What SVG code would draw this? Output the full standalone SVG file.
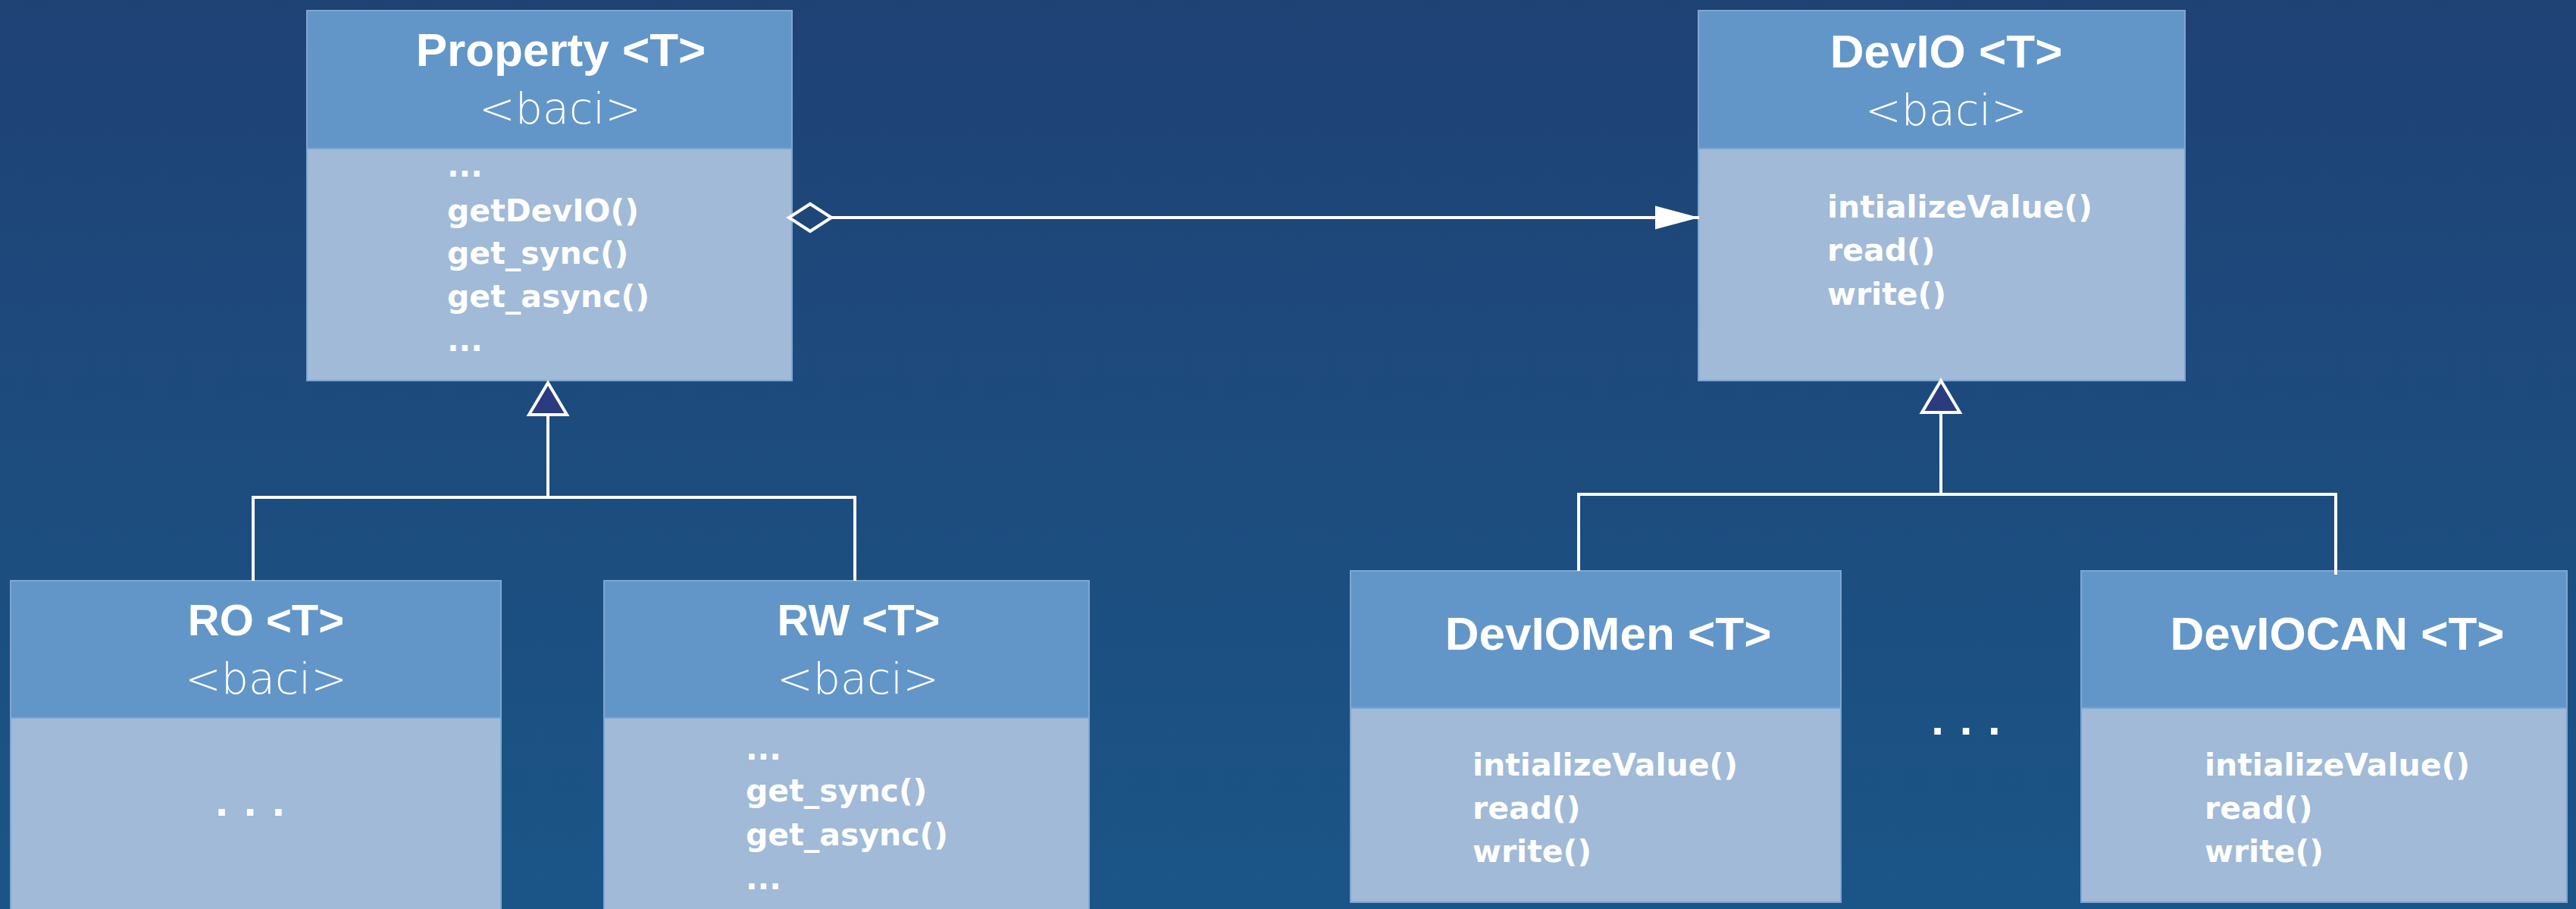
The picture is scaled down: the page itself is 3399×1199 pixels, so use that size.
<svg xmlns="http://www.w3.org/2000/svg" width="3399" height="1199" viewBox="0 0 3399 1199">
  <defs>
    <linearGradient id="bg" x1="0" y1="0" x2="0" y2="1">
      <stop offset="0" stop-color="#1f4275"/>
      <stop offset="1" stop-color="#1b5587"/>
    </linearGradient>
    <marker id="diamond" markerUnits="userSpaceOnUse" viewBox="0 0 62 42" markerWidth="62" markerHeight="42" refX="3" refY="21" orient="auto" overflow="visible">
      <path d="M3 21 L31 3 L59 21 L31 39 Z" fill="#1e4679" stroke="#ffffff" stroke-width="4"/>
    </marker>
    <marker id="arrow" markerUnits="userSpaceOnUse" viewBox="0 0 60 32" markerWidth="60" markerHeight="32" refX="58" refY="16" orient="auto" overflow="visible">
      <path d="M58 16 L0 0.5 L0 31.5 Z" fill="#ffffff"/>
    </marker>
    <marker id="inherit" markerUnits="userSpaceOnUse" viewBox="0 0 50 54" markerWidth="50" markerHeight="54" refX="46" refY="27" orient="auto" overflow="visible">
      <path d="M46 27 L4 2 L4 52 Z" fill="#2b3b80" stroke="#ffffff" stroke-width="4" stroke-linejoin="miter"/>
    </marker>
  </defs>
  <style>
    .hdr { fill: #6296c8; stroke: #7fa6d2; stroke-width: 2; }
    .body { fill: #a0bad8; stroke: #7fa6d2; stroke-width: 2; }
    .title { font-family: "Liberation Sans", Arial, sans-serif; font-weight: bold; font-size: 62px; fill: #ffffff; text-anchor: middle; }
    .title.sm { font-size: 58px; }
    .stereo { font-family: "DejaVu Sans", sans-serif; font-weight: 300; font-size: 57px; fill: #ffffff; text-anchor: middle; }
    .op { font-family: "DejaVu Sans", sans-serif; font-weight: bold; font-size: 41px; fill: #ffffff; }
    .dots { font-family: "Liberation Sans", Arial, sans-serif; font-weight: bold; font-size: 60px; letter-spacing: 2px; fill: #ffffff; text-anchor: middle; }
    .conn { fill: none; stroke: #ffffff; stroke-width: 4; }
  </style>
  <rect x="0" y="0" width="3399" height="1199" fill="url(#bg)"/>

  <g id="node-property">
    <rect class="body" x="405" y="14" width="640" height="488"/>
    <rect class="hdr" x="405" y="14" width="640" height="182"/>
    <text class="title" x="740" y="87">Property &lt;T&gt;</text>
    <text class="stereo" x="739" y="163">&lt;baci&gt;</text>
    <text class="op" x="590" y="233">...</text>
    <text class="op" x="590" y="292">getDevIO()</text>
    <text class="op" x="590" y="348">get_sync()</text>
    <text class="op" x="590" y="405">get_async()</text>
    <text class="op" x="590" y="463">...</text>
  </g>

  <g id="node-devio">
    <rect class="body" x="2241" y="14" width="642" height="488"/>
    <rect class="hdr" x="2241" y="14" width="642" height="182"/>
    <text class="title" x="2568" y="89">DevIO &lt;T&gt;</text>
    <text class="stereo" x="2568" y="165">&lt;baci&gt;</text>
    <text class="op" x="2411" y="287">intializeValue()</text>
    <text class="op" x="2411" y="344">read()</text>
    <text class="op" x="2411" y="402">write()</text>
  </g>

  <g id="node-ro">
    <rect class="body" x="14" y="766" width="647" height="440"/>
    <rect class="hdr" x="14" y="766" width="647" height="181"/>
    <text class="title sm" x="351" y="838">RO &lt;T&gt;</text>
    <text class="stereo" x="351" y="915">&lt;baci&gt;</text>
    <text class="dots" x="331" y="1076">. . .</text>
  </g>

  <g id="node-rw">
    <rect class="body" x="797" y="766" width="640" height="440"/>
    <rect class="hdr" x="797" y="766" width="640" height="181"/>
    <text class="title sm" x="1133" y="838">RW &lt;T&gt;</text>
    <text class="stereo" x="1132" y="915">&lt;baci&gt;</text>
    <text class="op" x="984" y="1002">...</text>
    <text class="op" x="984" y="1057">get_sync()</text>
    <text class="op" x="984" y="1115">get_async()</text>
    <text class="op" x="984" y="1173">...</text>
  </g>

  <g id="node-deviomen">
    <rect class="body" x="1782" y="753" width="647" height="437"/>
    <rect class="hdr" x="1782" y="753" width="647" height="181"/>
    <text class="title" x="2122" y="857">DevIOMen &lt;T&gt;</text>
    <text class="op" x="1943" y="1023">intializeValue()</text>
    <text class="op" x="1943" y="1080">read()</text>
    <text class="op" x="1943" y="1137">write()</text>
  </g>

  <g id="node-deviocan">
    <rect class="body" x="2746" y="753" width="641" height="437"/>
    <rect class="hdr" x="2746" y="753" width="641" height="181"/>
    <text class="title" x="3084" y="857">DevIOCAN &lt;T&gt;</text>
    <text class="op" x="2909" y="1023">intializeValue()</text>
    <text class="op" x="2909" y="1080">read()</text>
    <text class="op" x="2909" y="1137">write()</text>
  </g>

  <g id="ellipsis-devio">
    <text class="dots" x="2595" y="969">. . .</text>
  </g>

  <g id="connectors">
    <path class="conn" d="M1041 287 L2242 287" marker-start="url(#diamond)" marker-end="url(#arrow)"/>
    <path class="conn" d="M723 656 L723 505" marker-end="url(#inherit)"/>
    <path class="conn" d="M334 766 L334 656 L1128 656 L1128 766"/>
    <path class="conn" d="M2561 652 L2561 502" marker-end="url(#inherit)"/>
    <path class="conn" d="M2083 753 L2083 652 L3082 652 L3082 758"/>
  </g>
</svg>
